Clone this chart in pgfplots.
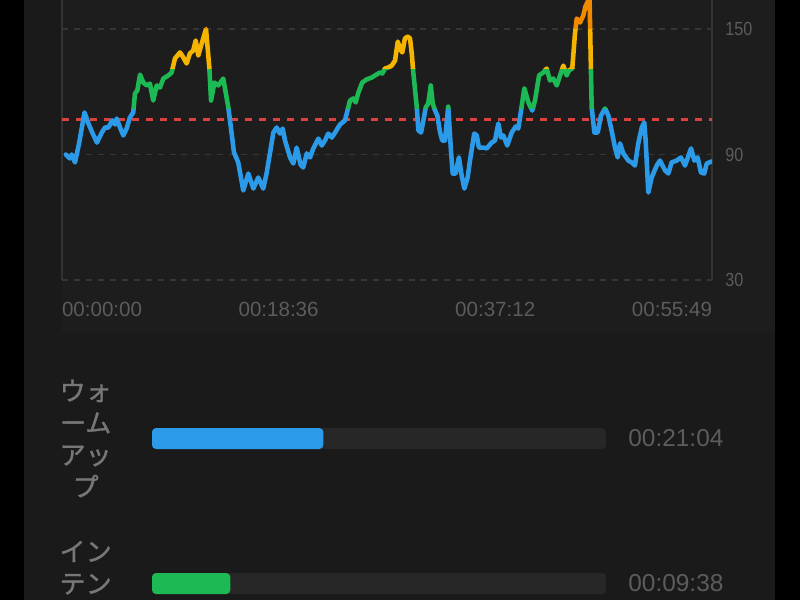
\documentclass[border=0pt]{standalone}
\usepackage{pgfplots}
\pgfplotsset{compat=1.18}
\usepackage{pgfplotstable}
\usepackage{fontspec}
\setmainfont{Liberation Sans}
\newfontfamily\cjk[FakeBold=1.2]{Noto Sans CJK JP}
\newfontfamily\narrow[FakeStretch=0.85]{Liberation Sans}
\definecolor{panel}{HTML}{1A1A1A}
\definecolor{chartbg}{HTML}{1D1D1D}
\definecolor{gridgray}{HTML}{363636}
\definecolor{axisgray}{HTML}{333333}
\definecolor{tickgray}{HTML}{5C5C5C}
\definecolor{labelgray}{HTML}{777777}
\definecolor{hrblue}{HTML}{2B9AE8}
\definecolor{hrgreen}{HTML}{1DB954}
\definecolor{hryellow}{HTML}{F5B400}
\definecolor{hrorange}{HTML}{F28A00}
\definecolor{refred}{HTML}{D9423F}
\definecolor{trackgray}{HTML}{272727}

\pgfplotstableread{
t hr
20 90.0
41 88.1
50 90.0
67 86.2
88 95.3
116 110.1
136 104.8
156 100.5
180 95.7
205 100.5
222 102.9
239 102.9
259 106.3
273 104.3
282 107.2
299 102.9
316 99.1
333 102.4
350 107.7
367 110.1
376 119.2
388 120.6
402 128.2
419 124.4
436 123.0
453 123.9
470 115.8
488 123.0
505 122.0
522 126.3
548 127.8
565 129.2
582 135.9
608 138.8
625 136.4
642 133.5
659 138.3
676 139.7
689 144.5
702 137.3
720 143.1
742 150.0
759 131.6
768 115.8
785 124.4
805 123.0
831 126.3
857 112.5
874 100.0
886 91.0
908 86.2
934 72.8
960 80.9
986 73.7
1011 79.0
1037 73.7
1055 81.4
1089 100.5
1106 102.9
1123 100.0
1137 102.4
1149 96.7
1175 88.6
1192 85.7
1209 93.3
1229 85.2
1243 83.8
1261 90.5
1278 88.6
1295 92.9
1321 97.6
1338 94.3
1355 96.7
1372 100.0
1390 98.1
1407 100.5
1432 104.3
1458 106.3
1475 112.5
1484 115.8
1501 116.8
1513 114.9
1527 119.6
1547 124.4
1570 125.9
1596 126.8
1613 127.8
1638 129.2
1650 128.7
1664 131.1
1681 131.6
1699 132.5
1716 134.9
1730 144.0
1741 140.7
1753 138.8
1767 145.5
1781 146.4
1793 145.5
1802 138.3
1810 129.2
1828 112.5
1836 101.5
1850 100.5
1862 106.3
1874 112.5
1887 114.4
1900 123.0
1910 114.4
1922 111.0
1934 108.6
1948 100.5
1959 96.7
1973 96.7
1990 112.9
2004 91.9
2013 80.9
2028 80.9
2045 88.6
2059 80.0
2073 73.7
2090 79.0
2102 87.1
2124 100.0
2137 99.1
2148 93.3
2171 93.3
2188 92.9
2214 95.7
2231 96.7
2248 104.8
2262 98.1
2274 99.1
2294 94.3
2317 100.5
2338 103.4
2351 102.4
2365 111.0
2382 121.6
2403 114.9
2423 111.0
2437 115.8
2458 127.8
2480 129.2
2497 131.1
2514 125.4
2531 126.3
2549 123.0
2566 127.8
2583 132.5
2600 127.8
2612 130.2
2629 131.1
2643 147.8
2652 155.0
2669 153.1
2686 156.5
2697 160.8
2718 165.0
2729 112.5
2743 100.5
2760 100.5
2777 108.6
2798 112.0
2815 108.6
2835 100.0
2849 93.3
2863 88.6
2875 95.3
2892 90.5
2918 87.1
2935 86.2
2952 84.7
2969 95.3
2987 102.9
3000 105.3
3007 96.7
3021 71.8
3038 79.0
3064 84.7
3081 87.1
3107 82.4
3124 80.9
3141 86.2
3167 87.1
3189 88.6
3210 84.7
3241 92.9
3258 87.1
3275 88.6
3292 81.4
3309 80.9
3322 85.7
3347 86.7
}\hrdata

\pgfplotstableread{
pos dur lab
1 3349 00:21:04
0 3349 00:09:38
}\tracks

\tikzset{hrline/.style={line width=2.6pt, line join=round, line cap=round, mark=none}}

\begin{document}
\begin{tikzpicture}
\path[use as bounding box] (0,0) rectangle (16,12);
\fill[black] (0,0) rectangle (16,12);
\fill[panel] (0.48,0) rectangle (15.5,12);
\fill[chartbg] (1.24,5.36) rectangle (15.5,12);

\begin{axis}[
  at={(1.24cm,6.4cm)}, anchor=south west,
  scale only axis, width=13cm, height=5.8568cm,
  xmin=0, xmax=3349, ymin=30, ymax=170,
  separate axis lines,
  x axis line style={draw=none},
  y axis line style={draw=axisgray, line width=0.6pt},
  major tick length=0pt,
  xtick={0,1116,2232,3349},
  xticklabels={\rlap{00:00:00},00:18:36,00:37:12,\llap{00:55:49}},
  xticklabel style={font=\fontsize{11.7}{14}\selectfont, text=tickgray, anchor=north, inner sep=0pt, yshift=-0.44cm},
  ytick={30,90,150},
  yticklabels={30,90,150},
  yticklabel pos=right,
  yticklabel style={font=\narrow\fontsize{10.8}{13}\selectfont, text=tickgray, anchor=west, inner sep=0pt, xshift=0.26cm},
  /pgf/number format/assume math mode=true,
  ymajorgrids,
  grid style={dash pattern=on 3.4pt off 3.4pt, draw=gridgray, line width=0.6pt},
]
\addplot[refred, line width=1.7pt, dash pattern=on 4pt off 4pt, mark=none] coordinates {(0,106.7) (3349,106.7)};
\begin{scope}
\clip (axis cs:-500,0) rectangle (axis cs:4000,112);
\addplot[hrline, hrblue] table[x=t,y=hr] {\hrdata};
\end{scope}
\begin{scope}
\clip (axis cs:-500,112) rectangle (axis cs:4000,131);
\addplot[hrline, hrgreen] table[x=t,y=hr] {\hrdata};
\end{scope}
\begin{scope}
\clip (axis cs:-500,131) rectangle (axis cs:4000,150.3);
\addplot[hrline, hryellow] table[x=t,y=hr] {\hrdata};
\end{scope}
\begin{scope}
\clip (axis cs:-500,150.3) rectangle (axis cs:4000,250);
\addplot[hrline, hrorange] table[x=t,y=hr] {\hrdata};
\end{scope}
\end{axis}

\begin{axis}[
  at={(3.04cm,0.33cm)}, anchor=south west,
  scale only axis, width=9.08cm, height=2.9cm,
  xmin=0, xmax=3349, ymin=0, ymax=1,
  clip=false,
  axis line style={draw=none},
  major tick length=0pt,
  xtick=\empty,
  ytick={0,1},
  yticklabels={{イン\\テン\\シブ},{ウォ\\ーム\\アッ\\プ}},
  yticklabel style={font=\cjk\fontsize{14.8}{18.2}\selectfont, text=labelgray, align=center, anchor=east, inner sep=0pt, xshift=-0.8cm},
  xbar, bar width=0.42cm,
]
\addplot[xbar, bar shift=0pt, fill=trackgray, draw=none, rounded corners=2.3pt,
  nodes near coords, point meta=explicit symbolic,
  every node near coord/.append style={anchor=west, xshift=0.44cm, inner sep=0pt, font=\fontsize{13.9}{16}\selectfont, text=tickgray}]
  table[x=dur,y=pos,meta=lab] {\tracks};
\addplot[xbar, bar shift=0pt, fill=hrblue, draw=none, rounded corners=2.3pt] coordinates {(1264,1)};
\addplot[xbar, bar shift=0pt, fill=hrgreen, draw=none, rounded corners=2.3pt] coordinates {(578,0)};
\end{axis}
\end{tikzpicture}
\end{document}
